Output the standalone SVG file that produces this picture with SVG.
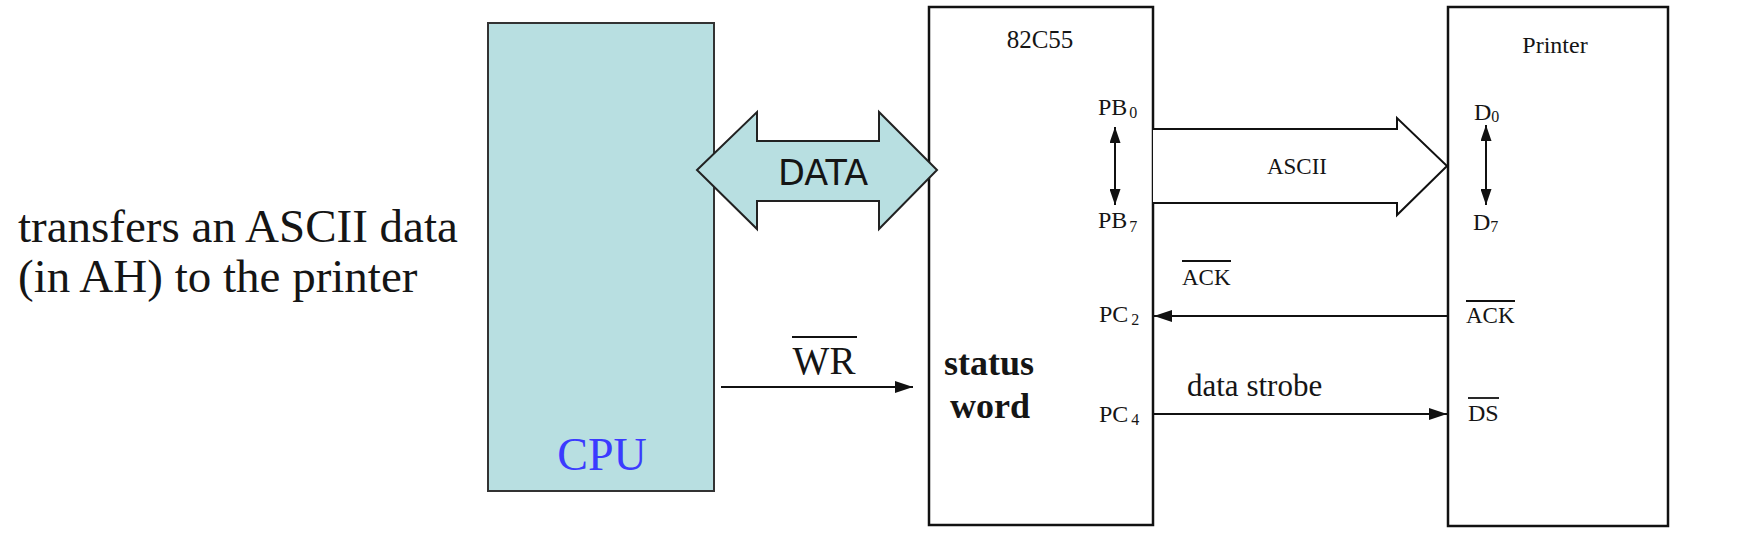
<svg xmlns="http://www.w3.org/2000/svg" width="1748" height="534" viewBox="0 0 1748 534">
<style>
.box{fill:#fff;stroke:#111;stroke-width:2.5}
.t{font-family:"Liberation Serif","Times New Roman",serif;fill:#151515}
.wire{stroke:#111;stroke-width:2;fill:none}
.ov{stroke:#111;stroke-width:1.8}
.sub{font-size:16px}
</style>
<defs>
<marker id="ah" viewBox="0 0 18 12" refX="18" refY="6" markerWidth="18" markerHeight="12" markerUnits="userSpaceOnUse" orient="auto-start-reverse">
<path d="M0,0 L18,6 L0,12 Z" fill="#111"/>
</marker>
<marker id="ahv" viewBox="0 0 16 11" refX="16" refY="5.5" markerWidth="16" markerHeight="11" markerUnits="userSpaceOnUse" orient="auto-start-reverse">
<path d="M0,0 L16,5.5 L0,11 Z" fill="#111"/>
</marker>
</defs>
<rect width="1748" height="534" fill="#fff"/>

<g id="note">
<text class="t" x="18" y="242" font-size="47">transfers an ASCII data</text>
<text class="t" x="18" y="292" font-size="47">(in AH) to the printer</text>
</g>

<g id="cpu">
<rect x="488" y="23" width="226" height="468" fill="#b8dfe1" stroke="#333" stroke-width="2"/>
<text x="602" y="470" font-family="Liberation Serif, serif" font-size="46" fill="#3b3bff" text-anchor="middle">CPU</text>
</g>

<g id="ppi">
<rect class="box" x="929" y="7" width="224" height="518"/>
<text class="t" x="1040" y="48" font-size="25" text-anchor="middle">82C55</text>
<text class="t" x="989" y="375" font-size="36" font-weight="bold" text-anchor="middle">status</text>
<text class="t" x="990" y="418" font-size="36" font-weight="bold" text-anchor="middle">word</text>
<text class="t" x="1098" y="115" font-size="24">PB<tspan class="sub" dx="2" dy="3">0</tspan></text>
<text class="t" x="1098" y="228" font-size="24">PB<tspan class="sub" dx="2" dy="4">7</tspan></text>
<text class="t" x="1099" y="322" font-size="24">PC<tspan class="sub" dx="3" dy="3">2</tspan></text>
<text class="t" x="1099" y="422" font-size="24">PC<tspan class="sub" dx="3" dy="3">4</tspan></text>
</g>

<g id="printer">
<rect class="box" x="1448" y="7" width="220" height="519"/>
<text class="t" x="1555" y="53" font-size="24" text-anchor="middle">Printer</text>
<text class="t" x="1474" y="120" font-size="24">D<tspan class="sub" dx="0" dy="2">0</tspan></text>
<text class="t" x="1473" y="230" font-size="24">D<tspan class="sub" dx="0" dy="2">7</tspan></text>
<text class="t" x="1466" y="323" font-size="23">ACK</text>
<line class="ov" x1="1466" y1="301" x2="1515" y2="301"/>
<text class="t" x="1468" y="421" font-size="24">DS</text>
<line class="ov" x1="1468" y1="398" x2="1499" y2="398"/>
</g>

<g id="connectors">
<path id="data-bus" d="M697,170 L757,112 L757,141 L879,141 L879,112 L937,170 L879,229 L879,201 L757,201 L757,229 Z" fill="#b8dfe1" stroke="#222" stroke-width="2" stroke-linejoin="miter"/>
<text x="823" y="185" font-family="DejaVu Sans, sans-serif" font-size="35" fill="#151515" text-anchor="middle">DATA</text>

<line class="wire" x1="721" y1="387" x2="913" y2="387" marker-end="url(#ah)"/>
<text class="t" x="824" y="374" font-size="39" text-anchor="middle">WR</text>
<line class="ov" x1="792" y1="337" x2="857" y2="337" stroke-width="2.2"/>

<path id="ascii-bus" d="M1153,129 H1397 V118 L1447,166 L1397,215 V203 H1153" fill="#fff" stroke="#111" stroke-width="2"/>
<text class="t" x="1297" y="174" font-size="23" text-anchor="middle">ASCII</text>

<line class="wire" x1="1115" y1="127" x2="1115" y2="205" marker-start="url(#ahv)" marker-end="url(#ahv)"/>
<line class="wire" x1="1486" y1="125" x2="1486" y2="205" marker-start="url(#ahv)" marker-end="url(#ahv)"/>

<line class="wire" x1="1447" y1="316" x2="1154" y2="316" marker-end="url(#ah)"/>
<text class="t" x="1182" y="285" font-size="23">ACK</text>
<line class="ov" x1="1182" y1="261" x2="1231" y2="261"/>

<line class="wire" x1="1153" y1="414" x2="1447" y2="414" marker-end="url(#ah)"/>
<text class="t" x="1187" y="396" font-size="31">data strobe</text>
</g>
</svg>
